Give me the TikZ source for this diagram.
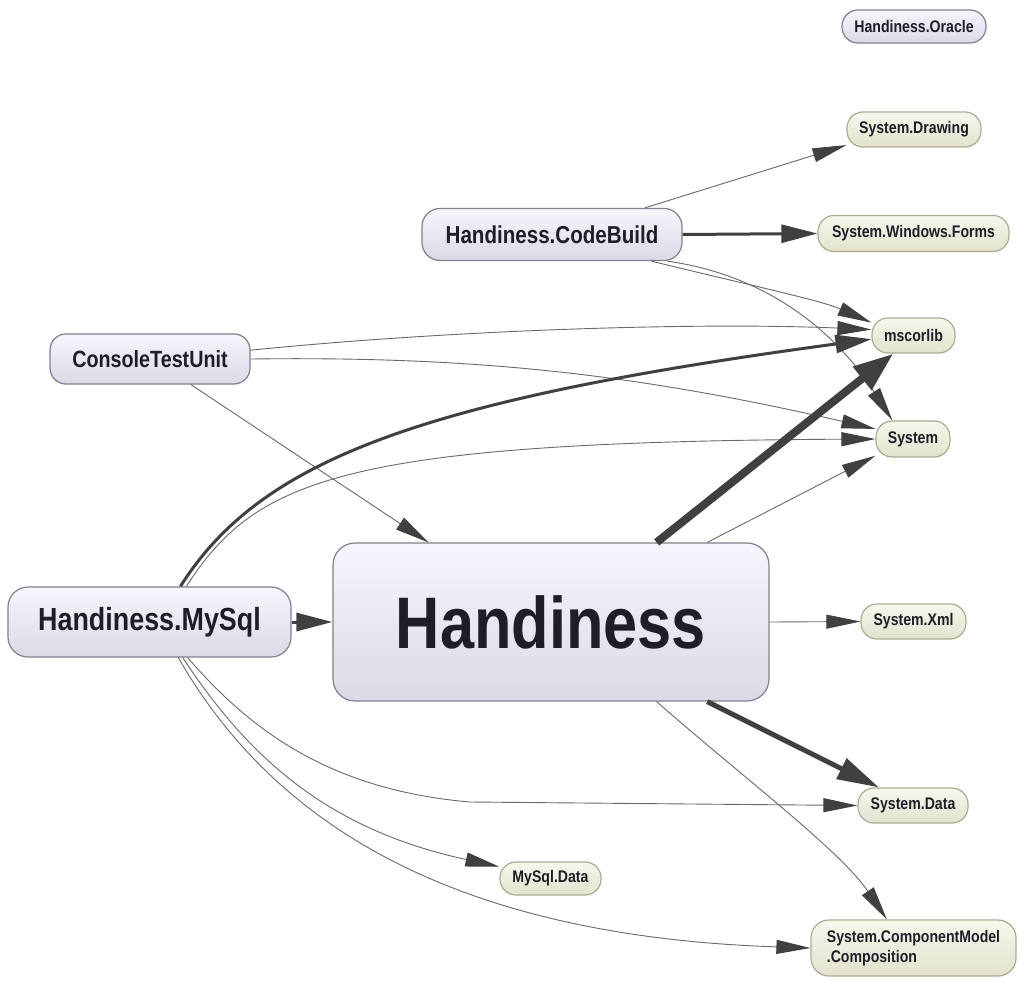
\documentclass[tikz,border=0pt]{standalone}
\usepackage{fontspec}
\setmainfont{Liberation Sans}[FakeStretch=0.84]
\usetikzlibrary{arrows.meta}
\definecolor{lavtop}{RGB}{246,246,253}
\definecolor{lavbot}{RGB}{218,218,230}
\definecolor{lavdraw}{RGB}{128,128,144}
\definecolor{beitop}{RGB}{247,247,236}
\definecolor{beibot}{RGB}{226,226,206}
\definecolor{beidraw}{RGB}{172,172,148}
\definecolor{txt}{RGB}{30,30,40}
\definecolor{thinline}{RGB}{105,105,105}
\definecolor{arrowdark}{RGB}{64,64,64}
\tikzset{
  lav/.style={draw=lavdraw, line width=1.2pt, top color=lavtop, bottom color=lavbot,
    text=txt, inner sep=0pt, rounded corners=#1},
  lav/.default=18pt,
  bei/.style={draw=beidraw, line width=1.2pt, top color=beitop, bottom color=beibot,
    text=txt, inner sep=0pt, rounded corners=#1, minimum height=35pt,
    font=\fontsize{16.8}{20}\selectfont\bfseries},
  bei/.default=16pt,
  dep/.style={draw=thinline, line width=0.9pt,
    -{Triangle[length=34pt,width=14pt,color=arrowdark]}},
  depthree/.style={draw=arrowdark, line width=3pt,
    -{Triangle[length=36pt,width=18pt]}},
  depfive/.style={draw=arrowdark, line width=5pt,
    -{Triangle[length=42pt,width=22pt]}},
  depeight/.style={draw=arrowdark, line width=8pt,
    -{Triangle[length=40pt,width=28pt]}},
}
\begin{document}
\begin{tikzpicture}[x=1pt,y=-1pt]
\useasboundingbox[fill=white] (0,0) rectangle (1024,984);
% nodes
\node[lav=16pt, minimum width=144pt, minimum height=33pt, font=\fontsize{16.8}{20}\selectfont\bfseries] (oracle) at (914,26.5) {Handiness.Oracle};
\node[bei, minimum width=134pt] (drawing) at (914,129.5) {System.Drawing};
\node[bei, minimum width=191pt, minimum height=36pt] (forms) at (913.5,233.5) {System.Windows.Forms};
\node[lav=18pt, minimum width=260pt, minimum height=52pt, font=\fontsize{24.5}{28}\selectfont\bfseries] (codebuild) at (552,234.5) {Handiness.CodeBuild};
\node[bei, minimum width=83pt] (mscorlib) at (913.5,335.5) {mscorlib};
\node[bei, minimum width=74pt, minimum height=36pt] (system) at (913,439) {System};
\node[lav=16pt, minimum width=200pt, minimum height=50pt, font=\fontsize{23.5}{27}\selectfont\bfseries] (console) at (150,359) {ConsoleTestUnit};
\node[lav=22pt, minimum width=436pt, minimum height=158pt, font=\fontsize{73}{80}\selectfont\bfseries] (handiness) at (551,622) {Handiness};
\node[lav=20pt, minimum width=283pt, minimum height=70pt, font=\fontsize{32}{36}\selectfont\bfseries] (mysql) at (149.5,622) {Handiness.MySql};
\node[bei, minimum width=105pt] (xml) at (913.5,621.5) {System.Xml};
\node[bei, minimum width=110pt] (data) at (913,805.5) {System.Data};
\node[bei, minimum width=101pt, minimum height=33pt] (mysqldata) at (550.5,878.5) {MySql.Data};
\node[bei=18pt, minimum width=205pt, minimum height=56pt, align=left] (comp) at (913.5,948) {System.ComponentModel\\.Composition};
% edges
\draw[dep] (codebuild.16) -- (drawing.193);
\draw[depthree] (codebuild.east) -- (forms.west);
\draw[dep] (codebuild.-15) .. controls (740,283) and (820,300) .. (mscorlib.163);
\draw[dep] (codebuild.-13.5) .. controls (800,280) and (860,370) .. (system.138);
\draw[dep] (console.5) .. controls (450,330) and (700,322) .. (mscorlib.172);
\draw[dep] (console.0) .. controls (480,356) and (640,375) .. (system.165);
\draw[dep] (console.328) -- (handiness.147.5);
\draw[depthree] (mysql.49) .. controls (260,460) and (420,400) .. (mscorlib.185);
\draw[dep] (mysql.44.6) .. controls (255,480) and (340,442) .. (system.180);
\draw[depthree] (mysql.east) -- (handiness.west);
\draw[dep] (mysql.-43) .. controls (250,730) and (330,790) .. (470,802) -- (data.west);
\draw[dep] (mysql.-47) .. controls (250,760) and (330,830) .. (mysqldata.167);
\draw[dep] (mysql.-51) .. controls (260,800) and (420,935) .. (comp.west);
\draw[depeight] (handiness.37) -- (mscorlib.222);
\draw[dep] (handiness.27) -- (system.204);
\draw[dep] (handiness.east) -- (xml.west);
\draw[depfive] (handiness.-27) -- (data.152);
\draw[dep] (handiness.-37) .. controls (740,775) and (840,850) .. (comp.133);
\end{tikzpicture}
\end{document}
